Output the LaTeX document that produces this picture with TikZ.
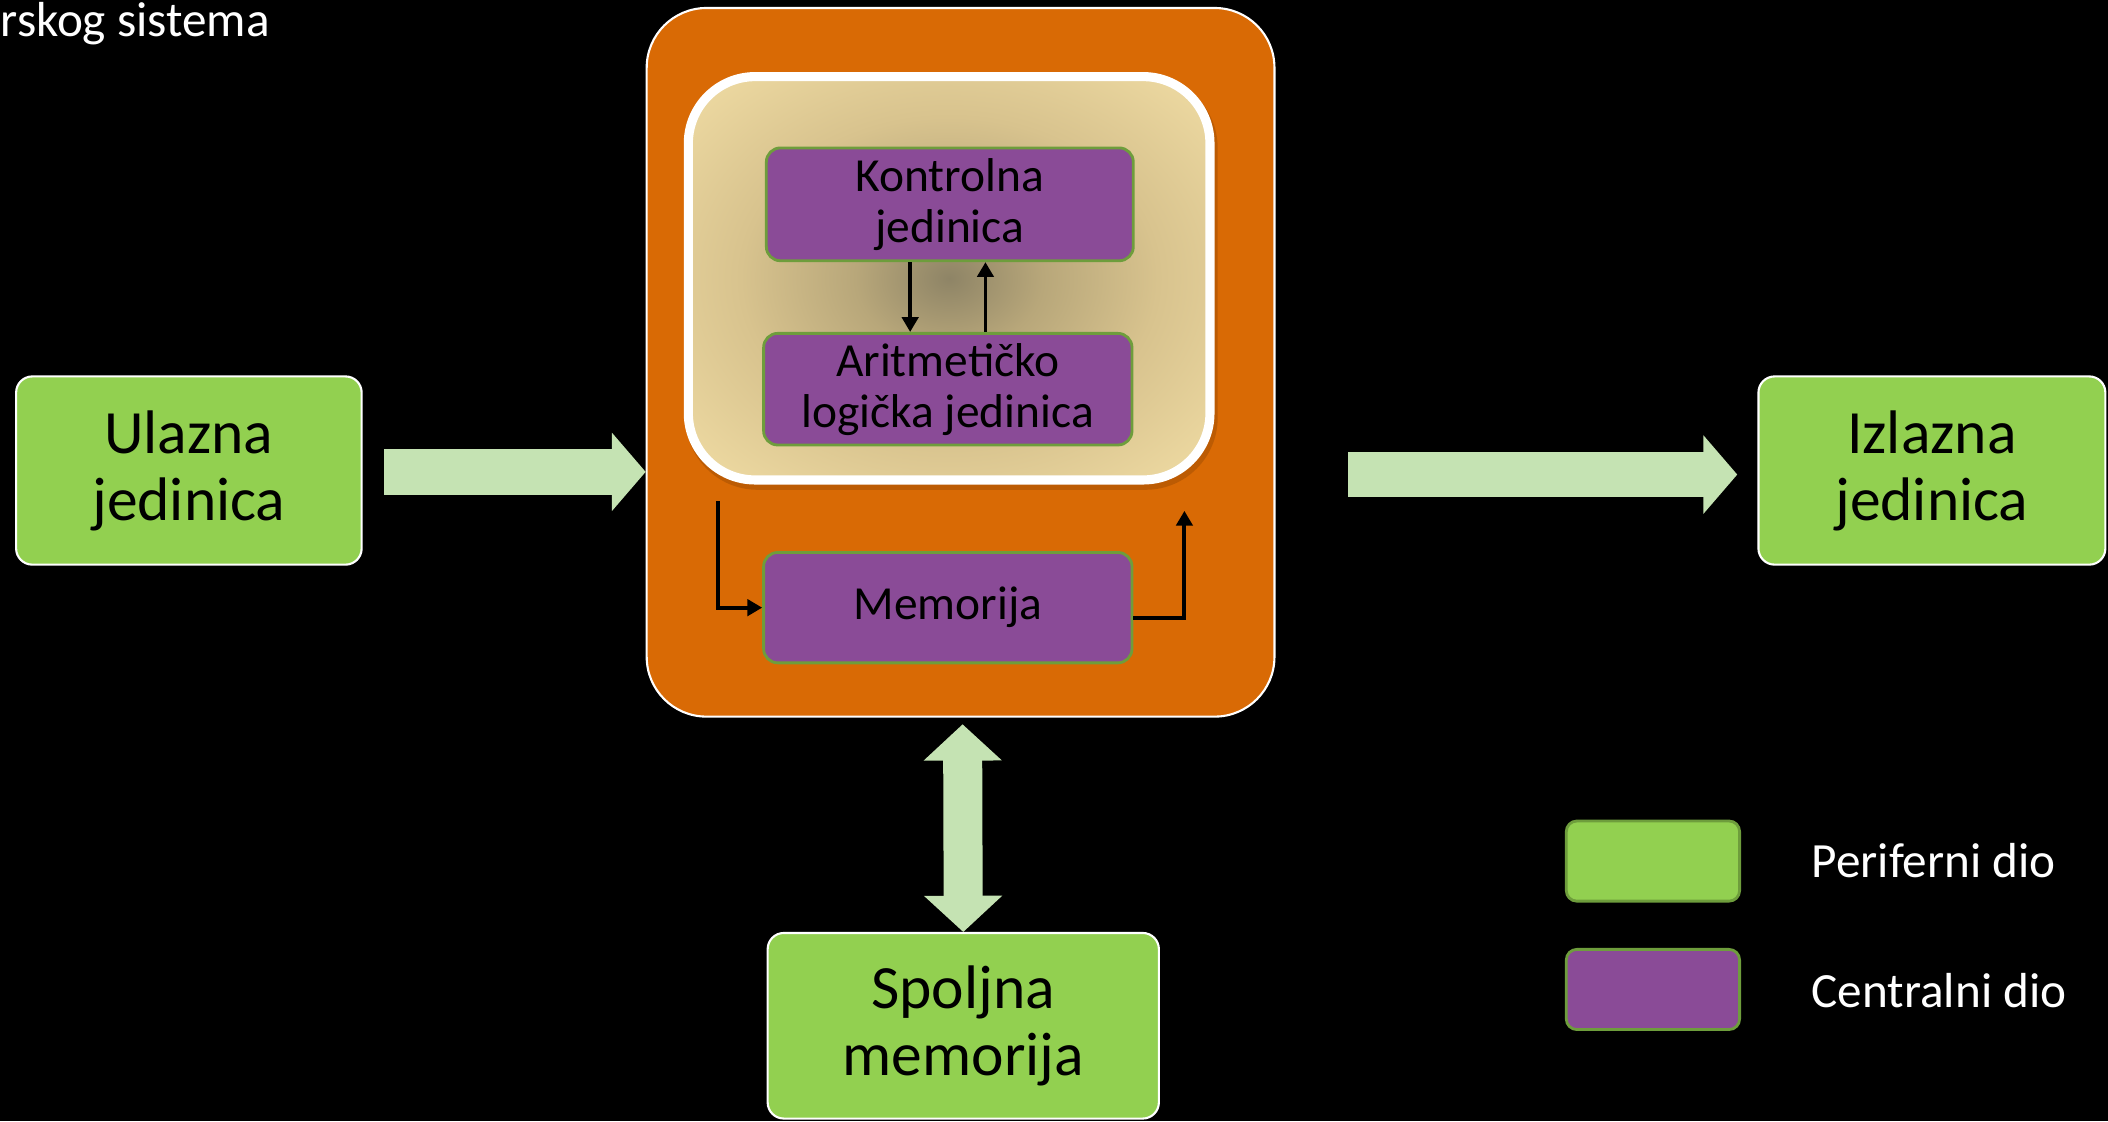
\documentclass[tikz,border=0pt]{standalone}
\usepackage{fontspec}
\setmainfont{Carlito}
\usetikzlibrary{arrows.meta,calc}
\definecolor{pgreen}{HTML}{92D050}
\definecolor{agreen}{HTML}{C5E3B3}
\definecolor{porange}{HTML}{D96A05}
\definecolor{ppurple}{HTML}{8A4B97}
\definecolor{pborder}{HTML}{6E9D3C}
\definecolor{pcenter}{HTML}{8E8466}
\definecolor{pmid}{HTML}{B8A77A}
\definecolor{pmid2}{HTML}{D8C38E}
\definecolor{pouter}{HTML}{EEDAA2}
\definecolor{pshadow}{HTML}{7A3A00}
\pgfdeclareradialshading{panelshade}{\pgfpoint{0bp}{0bp}}{color(0bp)=(pcenter); color(9bp)=(pmid); color(20bp)=(pmid2); color(34bp)=(pouter); color(50bp)=(pouter)}
\tikzset{
  greenbox/.style={draw=white, line width=0.6pt, fill=pgreen, rounded corners=4.6pt, align=center, inner sep=0pt, text=black, font=\fontsize{17.5}{19}\selectfont},
  pbox/.style={draw=pborder, line width=0.8pt, fill=ppurple, rounded corners=4pt, align=center, inner sep=0pt, text=black, font=\fontsize{13.5}{14.5}\selectfont},
  legbox/.style={draw=pborder, line width=0.8pt, rounded corners=3pt, minimum width=49.3pt, minimum height=22.8pt, inner sep=0pt},
  legtext/.style={anchor=west, inner sep=0pt, text=white, font=\fontsize{14}{16}\selectfont},
  smallarrow/.style={draw=black, line width=1.1pt, -{Triangle[length=4.2pt,width=4.6pt]}},
  bigarrow/.style={draw=agreen, line width=13pt, -{Triangle[length=9.6pt,width=22.2pt,line width=0.6pt]}},
  dblarrow/.style={draw=agreen, line width=11.1pt, {Triangle[length=10.3pt,width=22.2pt,line width=0.6pt]}-{Triangle[length=10.3pt,width=22.2pt,line width=0.6pt]}}
}
\begin{document}
\begin{tikzpicture}[x=0.013444cm,y=-0.013444cm]
\fill[black] (0,0) rectangle (1568,834);
\useasboundingbox (0,0) rectangle (1568,834);

\node[anchor=base west, inner sep=0pt, text=white, font=\fontsize{14}{16}\selectfont] (title) at (0,27) {rskog sistema};

% main boxes
\node[greenbox, minimum width=98.3pt, minimum height=53.55pt] (ulazna) at (140.5,350) {Ulazna\\jedinica};
\node[greenbox, minimum width=98.7pt, minimum height=53.55pt] (izlazna) at (1437,350) {Izlazna\\jedinica};
\node[greenbox, minimum width=111.3pt, minimum height=52.8pt] (spoljna) at (716.5,763) {Spoljna\\memorija};

% CPU
\node[draw=white, line width=0.6pt, fill=porange, rounded corners=17pt, minimum width=178.6pt, minimum height=201.6pt, inner sep=0pt] (cpu) at (714.5,269.5) {};

\node[shade, shading=panelshade, draw=white, line width=2.6pt, rounded corners=19pt, minimum width=148.4pt, minimum height=114.75pt, inner sep=0pt,
  preaction={draw=pshadow, line width=3pt, opacity=0.3, transform canvas={xshift=0.7pt,yshift=-1.3pt}}] (panel) at (706,207) {};

\node[pbox, minimum width=104.4pt, minimum height=32.1pt] (kontrolna) at (706.5,152) {Kontrolna\\jedinica};
\node[pbox, minimum width=104.8pt, minimum height=31.75pt] (alu) at (705,289.5) {Aritmetičko\\logička jedinica};
\node[pbox, minimum width=104.8pt, minimum height=31.4pt] (memorija) at (705,452) {Memorija};

% small connectors
\coordinate (dn) at ($(kontrolna.south)+(-29.5,0)$);
\draw[smallarrow] (dn) -- (dn |- alu.north);
\coordinate (up) at ($(alu.north)+(28,0)$);
\draw[smallarrow] (up) -- (up |- kontrolna.south);
\coordinate (lstart) at (534,373);
\draw[smallarrow] (lstart) |- (memorija.west);
\coordinate (rstart) at ($(memorija.east)+(0,8)$);
\coordinate (rend) at (881,380);
\draw[smallarrow] (rstart) -| (rend);

% big arrows
\coordinate (a1s) at ($(ulazna.east)+(16,1)$);
\draw[bigarrow] (a1s) -- (a1s -| cpu.west);
\coordinate (a2s) at ($(cpu.east |- izlazna.west)+(54,3)$);
\coordinate (a2e) at ($(izlazna.west)+(-15,3)$);
\draw[bigarrow] (a2s) -- (a2e);
\coordinate (dtop) at ($(cpu.south)+(1.5,5)$);
\draw[dblarrow] (dtop) -- (spoljna.north);

% legend
\node[legbox, fill=pgreen] (lgreen) at (1229.5,640.5) {};
\node[legbox, fill=ppurple] (lpurple) at (1229.5,736) {};
\node[legtext] (lgtext) at (1347,640) {Periferni dio};
\node[legtext] (lptext) at (1347,737) {Centralni dio};
\end{tikzpicture}
\end{document}
